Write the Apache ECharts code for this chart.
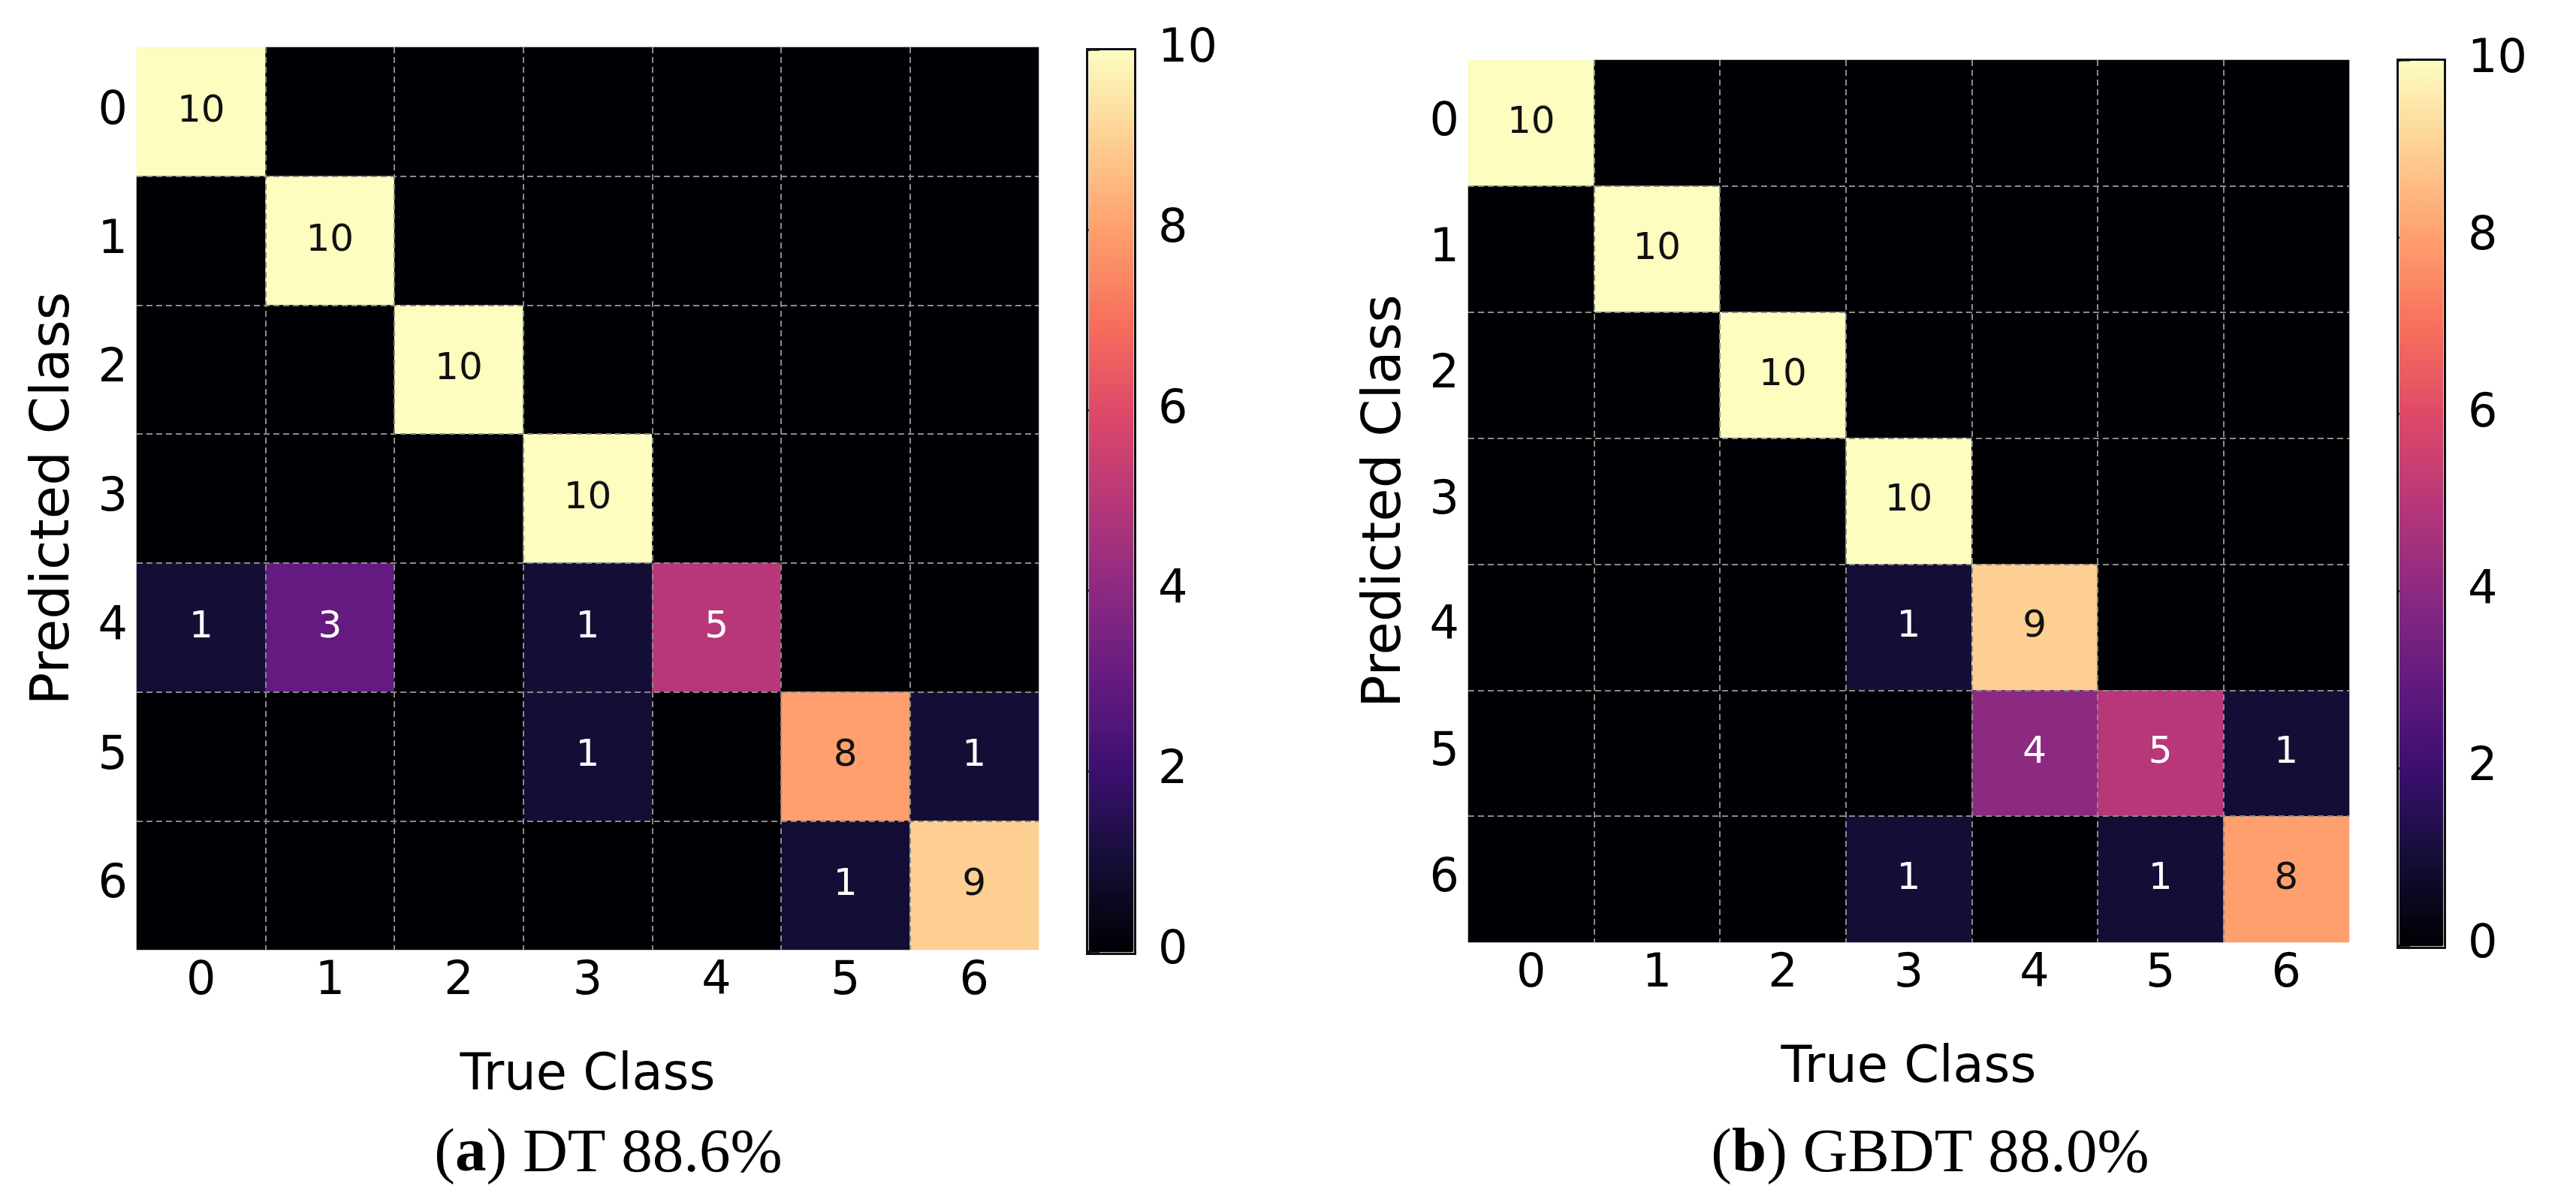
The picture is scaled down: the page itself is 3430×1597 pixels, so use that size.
<!DOCTYPE html>
<html>
<head>
<meta charset="utf-8">
<script src="https://cdn.jsdelivr.net/npm/echarts@6/dist/echarts.min.js"></script>
<style>
html,body{margin:0;padding:0;background:#fff;}
#chart{width:3430px;height:1597px;}
</style>
</head>
<body>
<div id="chart"></div>
<script>
// ---- data ----
const classes = ['0', '1', '2', '3', '4', '5', '6'];
// rows = predicted class (0..6), columns = true class (0..6)
const dtMatrix = [
  [10, 0, 0, 0, 0, 0, 0],
  [0, 10, 0, 0, 0, 0, 0],
  [0, 0, 10, 0, 0, 0, 0],
  [0, 0, 0, 10, 0, 0, 0],
  [1, 3, 0, 1, 5, 0, 0],
  [0, 0, 0, 1, 0, 8, 1],
  [0, 0, 0, 0, 0, 1, 9]
];
const gbdtMatrix = [
  [10, 0, 0, 0, 0, 0, 0],
  [0, 10, 0, 0, 0, 0, 0],
  [0, 0, 10, 0, 0, 0, 0],
  [0, 0, 0, 10, 0, 0, 0],
  [0, 0, 0, 1, 9, 0, 0],
  [0, 0, 0, 0, 4, 5, 1],
  [0, 0, 0, 1, 0, 1, 8]
];
const colorMin = 0;
const colorMax = 10;
const colorStep = 2;
const magma = ['#000004', '#140e36', '#3b0f70', '#641a80', '#8c2981', '#b73779',
               '#de4968', '#f7705c', '#fe9f6d', '#fecf92', '#fcfdbf'];
const xTitle = 'True Class';
const yTitle = 'Predicted Class';
const captionA = { tag: 'a', text: ' DT 88.6%' };
const captionB = { tag: 'b', text: ' GBDT 88.0%' };

// ---- build ----
function toCells(m) {
  const out = [];
  m.forEach((row, r) => row.forEach((v, c) => out.push([c, r, v])));
  return out;
}
const FONT = 'DejaVu Sans';
const gridLine = { show: true, showMinLine: false, showMaxLine: false,
  lineStyle: { color: '#8a8a8a', width: 2, type: [8, 5] } };

function heatAxes(gi, nameGapX, nameGapY) {
  return {
    x: {
      gridIndex: gi, type: 'category', data: classes, position: 'bottom', z: 5,
      axisLine: { show: false }, axisTick: { show: false },
      axisLabel: { fontSize: 62, color: '#000', margin: 12, fontFamily: FONT },
      splitLine: gridLine,
      name: xTitle, nameLocation: 'middle', nameGap: nameGapX,
      nameTextStyle: { fontSize: 67, color: '#000', fontFamily: FONT }
    },
    y: {
      gridIndex: gi, type: 'category', data: classes, inverse: true, z: 5,
      axisLine: { show: false }, axisTick: { show: false },
      axisLabel: { fontSize: 62, color: '#000', margin: 12, fontFamily: FONT },
      splitLine: gridLine,
      name: yTitle, nameLocation: 'middle', nameGap: nameGapY, nameRotate: 90,
      nameTextStyle: { fontSize: 72, color: '#000', fontFamily: FONT }
    }
  };
}
function cbAxes(gi) {
  return {
    x: { gridIndex: gi, type: 'value', show: false, min: 0, max: 1 },
    y: {
      gridIndex: gi, type: 'value', min: colorMin, max: colorMax, interval: colorStep,
      position: 'right',
      axisLine: { show: false },
      axisTick: { show: true, length: 16, lineStyle: { color: '#000', width: 3 } },
      axisLabel: { fontSize: 62, color: '#000', margin: 34, fontFamily: FONT },
      splitLine: { show: false }
    }
  };
}
const labelCfg = {
  show: true,
  formatter: p => {
    const v = p.value[2];
    if (v === 0) return '';
    return v > 5 ? '{d|' + v + '}' : '{l|' + v + '}';
  },
  rich: {
    d: { color: '#111', fontSize: 50, fontFamily: FONT },
    l: { color: '#fff', fontSize: 50, fontFamily: FONT }
  }
};
const a0 = heatAxes(0, 135, 74), a1 = heatAxes(1, 135, 74);
const c2 = cbAxes(2), c3 = cbAxes(3);

const grids = [
  { left: 182, top: 63, width: 1201, height: 1202 },
  { left: 1955, top: 80, width: 1173, height: 1175 },
  { left: 1448, top: 66, width: 60, height: 1201 },
  { left: 3193, top: 80, width: 59, height: 1179 }
];
function vm(si, g) {
  const pad = 2;
  return {
    type: 'continuous', min: colorMin, max: colorMax, seriesIndex: si,
    calculable: false, show: true, hoverLink: false, orient: 'vertical',
    left: g.left - pad, top: g.top - pad, itemWidth: g.width, itemHeight: g.height,
    padding: pad, text: null, inRange: { color: magma },
    borderColor: '#111', borderWidth: 3
  };
}
function caption(c, cx) {
  return {
    type: 'text', x: cx, y: 1538,
    style: {
      text: '{n|(}{b|' + c.tag + '}{n|)' + c.text + '}',
      align: 'center', verticalAlign: 'middle',
      rich: {
        n: { fontSize: 83, fontFamily: 'Liberation Serif', fill: '#000' },
        b: { fontSize: 83, fontFamily: 'Liberation Serif', fontWeight: 'bold', fill: '#000' }
      }
    }
  };
}
const chart = echarts.init(document.getElementById('chart'));
chart.setOption({
  backgroundColor: '#fff',
  animation: false,
  grid: grids,
  xAxis: [a0.x, a1.x, c2.x, c3.x],
  yAxis: [a0.y, a1.y, c2.y, c3.y],
  visualMap: [vm(0, grids[2]), vm(1, grids[3])],
  series: [
    { type: 'heatmap', xAxisIndex: 0, yAxisIndex: 0, data: toCells(dtMatrix),
      label: labelCfg, emphasis: { disabled: true }, itemStyle: { borderWidth: 0 } },
    { type: 'heatmap', xAxisIndex: 1, yAxisIndex: 1, data: toCells(gbdtMatrix),
      label: labelCfg, emphasis: { disabled: true }, itemStyle: { borderWidth: 0 } }
  ],
  graphic: [caption(captionA, 810), caption(captionB, 2570)]
});
</script>
</body>
</html>
